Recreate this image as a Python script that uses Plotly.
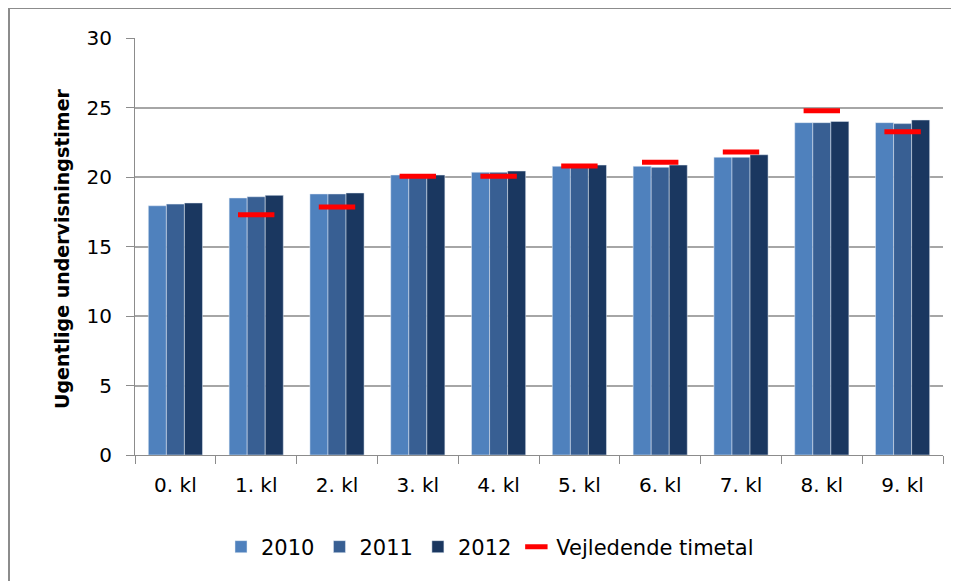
import plotly.graph_objects as go

categories = ["0. kl", "1. kl", "2. kl", "3. kl", "4. kl", "5. kl", "6. kl", "7. kl", "8. kl", "9. kl"]
y2010 = [17.93, 18.49, 18.78, 20.14, 20.34, 20.77, 20.77, 21.42, 23.91, 23.91]
y2011 = [18.05, 18.58, 18.78, 20.14, 20.34, 20.77, 20.70, 21.42, 23.91, 23.84]
y2012 = [18.13, 18.68, 18.85, 20.14, 20.43, 20.86, 20.86, 21.60, 24.00, 24.10]
vejledende = [None, 17.29, 17.84, 20.05, 20.05, 20.79, 21.06, 21.80, 24.77, 23.26]
y_title = "Ugentlige undervisningstimer"

font_family = "'DejaVu Sans', sans-serif"

fig = go.Figure()
fig.add_trace(go.Bar(name="2010", x=categories, y=y2010, marker=dict(color="#4F81BD")))
fig.add_trace(go.Bar(name="2011", x=categories, y=y2011, marker=dict(color="#385F93")))
fig.add_trace(go.Bar(name="2012", x=categories, y=y2012, marker=dict(color="#1A3760")))
fig.add_trace(go.Scatter(
    name="Vejledende timetal", x=categories, y=vejledende, mode="markers",
    marker=dict(symbol="line-ew", size=26, line=dict(color="#FF0000", width=5)),
))

OFF = 8  # page body margin offset
# plot area in screen pixels: x 135..943, y 38..455
L, T = 135 - OFF, 38 - OFF
W, H = 943 - 135, 455 - 38
R = 959 - L - W
B = 581 - T - H


def px(x):
    return (x - 135) / W


def py(y):
    return (455 - y) / H


fig.update_layout(
    width=959, height=581,
    margin=dict(l=L, r=R, t=T, b=B, autoexpand=False),
    paper_bgcolor="white", plot_bgcolor="white",
    barmode="group", bargap=0.33, bargroupgap=0,
    font=dict(family=font_family, color="#000000"),
    showlegend=True,
    legend=dict(orientation="h", x=px(490), xanchor="center", y=py(547), yanchor="middle",
                font=dict(size=21, family=font_family), itemwidth=30, traceorder="normal"),
    xaxis=dict(range=[-0.5, 9.5], showline=True, linecolor="#8C8C8C", linewidth=1, ticks="outside",
               tickson="boundaries", ticklen=8, tickcolor="#8C8C8C", automargin=False,
               ticklabelstandoff=12,
               tickfont=dict(size=20, family=font_family), showgrid=False),
    yaxis=dict(range=[0, 30], dtick=5, showline=True, linecolor="#8C8C8C", linewidth=1,
               ticks="outside", ticklen=8, tickcolor="#8C8C8C", automargin=False,
               ticklabelstandoff=10,
               gridcolor="#A6A6A6", gridwidth=1.5, zeroline=False,
               tickfont=dict(size=20, family=font_family)),
    annotations=[
        dict(text="<b>" + y_title + "</b>", textangle=-90, xref="paper", yref="paper",
             x=px(62), y=py(249), xanchor="center", yanchor="middle",
             showarrow=False, font=dict(size=19, family=font_family)),
    ],
    shapes=[
        dict(type="line", xref="paper", yref="paper",
             x0=px(9), x1=px(990), y0=py(8), y1=py(8),
             line=dict(color="#8C8C8C", width=2)),
        dict(type="line", xref="paper", yref="paper",
             x0=px(9), x1=px(9), y0=py(8), y1=py(620),
             line=dict(color="#8C8C8C", width=2)),
    ],
)

fig.write_html("out.html")
